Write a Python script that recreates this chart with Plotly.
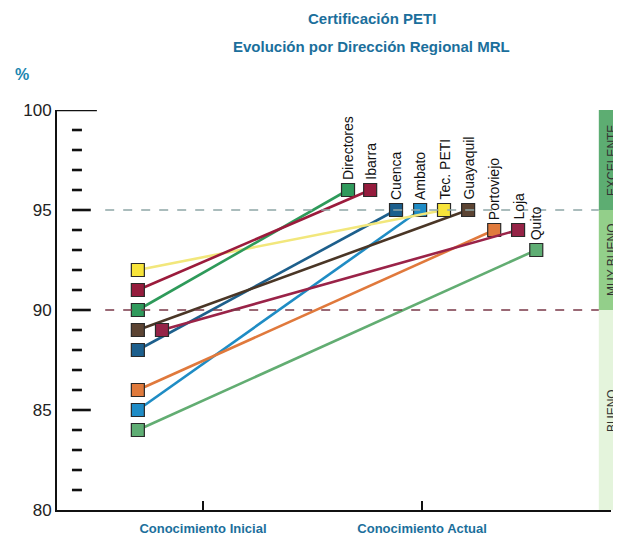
import plotly.graph_objects as go

# ---- data ----
names = ["Tec. PETI", "Ibarra", "Directores", "Guayaquil", "Loja", "Cuenca", "Portoviejo", "Ambato", "Quito"]
inicial = [92, 91, 90, 89, 89, 88, 86, 85, 84]
actual = [95, 96, 96, 95, 94, 95, 94, 95, 93]
categories = ["Conocimiento Inicial", "Conocimiento Actual"]
y_ticks = [80, 85, 90, 95, 100]
bands = [("BUENO", 80, 90), ("MUY BUENO", 90, 95), ("EXCELENTE", 95, 100.3)]

# ---- style (horizontal dodge of markers around category positions) ----
start_dodge = [-0.297, -0.297, -0.297, -0.297, -0.187, -0.297, -0.297, -0.297, -0.297]
end_dodge = [0.100, -0.237, -0.338, 0.210, 0.438, -0.119, 0.329, -0.009, 0.521]
line_colors = ["#f2e77c", "#9b1b3c", "#2e9a5a", "#4a3626", "#9a2348", "#1d5f8c", "#e0793c", "#1f8cc4", "#62ad72"]
marker_colors = ["#f7e43a", "#951c3d", "#2f9a5c", "#5c4433", "#952346", "#1c5f8d", "#e07a3c", "#1f8cc6", "#5fae74"]
band_colors = {"BUENO": "#e4f4dc", "MUY BUENO": "#93cf8a", "EXCELENTE": "#5dad72"}
title_color = "#1b6f9c"
narrow = "Liberation Sans Narrow, Liberation Sans, Arial"

fig = go.Figure()
order = [7, 6, 8, 5, 3, 4, 0, 2, 1]
for i in order:
    fig.add_trace(go.Scatter(
        x=[1 + start_dodge[i], 2 + end_dodge[i]],
        y=[inicial[i], actual[i]],
        mode="lines+markers",
        line=dict(color=line_colors[i], width=2.6),
        marker=dict(symbol="square", size=13, color=marker_colors[i],
                    line=dict(color="#2a2a2a", width=1.2)),
        showlegend=False, hoverinfo="skip",
    ))

annotations = []
for i, n in enumerate(names):
    annotations.append(dict(
        x=2 + end_dodge[i], y=actual[i], xref="x", yref="y",
        text=n, textangle=-90, showarrow=False,
        xanchor="center", yanchor="bottom", yshift=8,
        font=dict(family=narrow, size=14, color="#111"),
    ))

shapes = []
# right-side rating bands
for label, lo, hi in bands:
    shapes.append(dict(type="rect", xref="paper", yref="y", x0=0.978, x1=1.04, y0=lo, y1=hi,
                       fillcolor=band_colors[label], line=dict(width=0), layer="below"))
    annotations.append(dict(x=1.0126, y=(lo + min(hi, 100)) / 2, xref="paper", yref="y",
                            text=label, textangle=-90, showarrow=False, xshift=3,
                            font=dict(family=narrow, size=12, color="#333")))
# dashed reference lines
shapes.append(dict(type="line", xref="paper", yref="y", x0=0.087, x1=0.978, y0=95, y1=95,
                   line=dict(color="#8fa6a6", width=1.6, dash="dash")))
shapes.append(dict(type="line", xref="paper", yref="y", x0=0.087, x1=0.978, y0=90, y1=90,
                   line=dict(color="#7a3848", width=1.6, dash="dash")))
# floating y tick marks
for v in range(81, 101):
    if v == 100:
        x0, x1 = 0.0, 0.072
    elif v % 5 == 0:
        x0, x1 = 0.027, 0.061
    else:
        x0, x1 = 0.027, 0.045
    shapes.append(dict(type="line", xref="paper", yref="y", x0=x0, x1=x1, y0=v, y1=v,
                       line=dict(color="#111", width=2.6)))

# title and % label
annotations.append(dict(x=0.568, y=1.23, xref="paper", yref="paper", showarrow=False,
                        text="<b>Certificación PETI</b>",
                        font=dict(family=narrow, size=15, color=title_color),
                        xanchor="center", yanchor="middle"))
annotations.append(dict(x=0.568, y=1.16, xref="paper", yref="paper", showarrow=False,
                        text="<b>Evolución por Dirección Regional MRL</b>",
                        font=dict(family=narrow, size=15, color=title_color),
                        xanchor="center", yanchor="middle"))
annotations.append(dict(x=-0.08, y=1.088, xref="paper", yref="paper", showarrow=False,
                        text="<b>%</b>", font=dict(family="Liberation Sans, Arial", size=16, color="#1a86b0"),
                        xanchor="left", yanchor="middle"))

fig.update_layout(
    width=621, height=530,
    margin=dict(l=49, r=18, t=102, b=28),
    paper_bgcolor="white", plot_bgcolor="white",
    shapes=shapes, annotations=annotations,
    xaxis=dict(range=[0.334, 2.862], tickvals=[1, 2], ticktext=[f"<b>{c}</b>" for c in categories],
               showgrid=False, zeroline=False, showline=True, linecolor="#111", linewidth=2,
               ticks="inside", ticklen=9, tickwidth=2, tickcolor="#111", ticklabelstandoff=5,
               automargin=False,
               tickfont=dict(family=narrow, size=13, color=title_color)),
    yaxis=dict(range=[80, 100], tickvals=y_ticks, showgrid=False, zeroline=False,
               showline=True, linecolor="#111", linewidth=2, ticks="", automargin=False,
               tickfont=dict(family="Liberation Sans, Arial", size=17, color="#222")),
)

fig.write_html("out.html")
